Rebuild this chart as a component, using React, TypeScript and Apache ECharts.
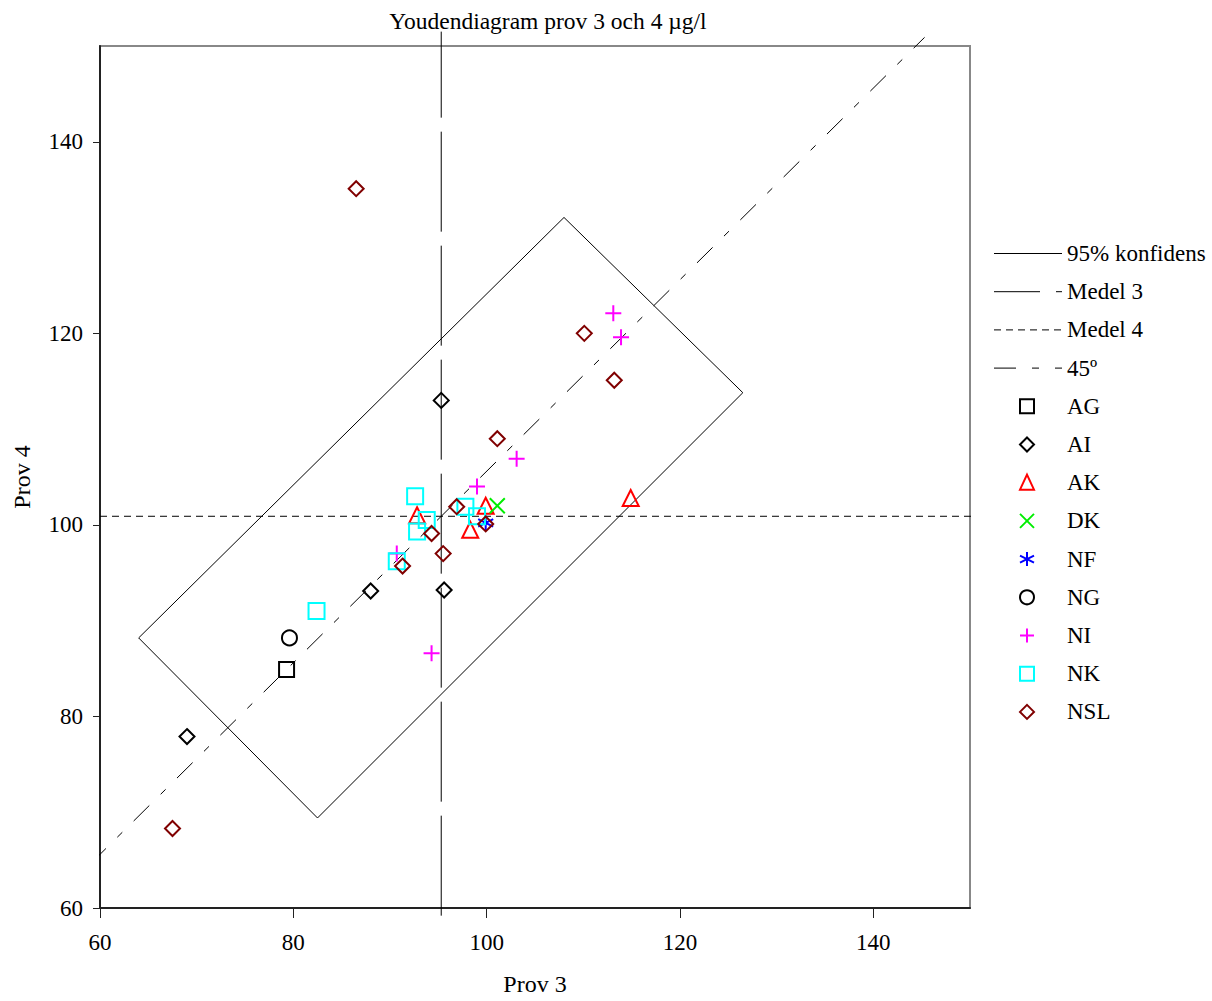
import React, { useEffect, useRef } from 'react';
import * as echarts from 'echarts';

// ---------- texts ----------
const titleText = 'Youdendiagram prov 3 och 4 µg/l';
const xName = 'Prov 3';
const yName = 'Prov 4';
const lineLegendNames = ['95% konfidens', 'Medel 3', 'Medel 4', '45º'];

// ---------- axes ----------
const axisMin = 60;
const axisMax = 150;
const xTicks = [60, 80, 100, 120, 140];
const yTicks = [60, 80, 100, 120, 140];

// ---------- reference lines ----------
const mean3 = 95.3;
const mean4 = 100.9;
const confX = [64.0, 82.5, 126.5, 108.0, 64.0];
const confY = [88.2, 69.4, 113.8, 132.1, 88.2];
const mean3Span = [59.2, 151.5];
const mean4Span = [60, 151];
const diagSpan = [59.0, 145.3];

// ---------- participants (Prov 3, Prov 4) ----------
const agData = [[79.3, 84.9]];
const aiData = [[69.0, 77.9], [88.0, 93.1], [95.3, 113.0], [95.6, 93.2]];
const akData = [[92.8, 101.0], [98.3, 99.5], [99.9, 102.0], [114.9, 102.8]];
const dkData = [[101.1, 102.0]];
const nfData = [[99.9, 100.2]];
const ngData = [[79.6, 88.2]];
const niData = [[113.1, 122.1], [113.9, 119.6], [103.1, 106.9], [99.0, 104.0], [90.7, 97.0], [94.3, 86.6]];
const nkData = [[92.6, 103.0], [93.8, 100.5], [92.8, 99.3], [97.8, 101.9], [99.0, 100.9], [90.7, 96.2], [82.4, 91.0]];
const nslData = [[86.5, 135.1], [110.1, 120.0], [113.2, 115.1], [101.1, 109.0], [96.9, 101.9], [94.3, 99.1], [95.5, 97.0], [91.3, 95.7], [99.9, 100.1], [67.5, 68.3]];

const FONT = '"Liberation Serif", "Times New Roman", serif';

const PATH_X = 'path://M0,0L10,10M10,0L0,10';
const PATH_PLUS = 'path://M5,0L5,10M0,5L10,5';
const PATH_AST = 'path://M5,0L5,10M0,2.5L10,7.5M10,2.5L0,7.5';

const groups = [
  { name: 'AG', data: agData, symbol: 'rect', color: '#000000', size: 15, kind: 'square' },
  { name: 'AI', data: aiData, symbol: 'diamond', color: '#000000', size: 15, kind: 'diamond' },
  { name: 'AK', data: akData, symbol: 'triangle', color: '#ff0000', size: 16, kind: 'triangle' },
  { name: 'DK', data: dkData, symbol: PATH_X, color: '#00ee00', size: 15, kind: 'x' },
  { name: 'NF', data: nfData, symbol: PATH_AST, color: '#0000ff', size: 15, kind: 'ast' },
  { name: 'NG', data: ngData, symbol: 'circle', color: '#000000', size: 15, kind: 'circle' },
  { name: 'NI', data: niData, symbol: PATH_PLUS, color: '#ff00ff', size: 16, kind: 'plus' },
  { name: 'NK', data: nkData, symbol: 'rect', color: '#00ffff', size: 16, kind: 'square' },
  { name: 'NSL', data: nslData, symbol: 'diamond', color: '#800000', size: 15, kind: 'diamond' },
];

const lineDashes: (number[] | null)[] = [null, [46, 16], [7, 5], [22, 16, 7, 16]];
const plotDashes: (number[] | null)[] = [null, [100, 14], [7, 5], [22, 16, 7, 16]];

function legendSymbol(kind: string, cx: number, cy: number, color: string): any[] {
  const st = { fill: 'none', stroke: color, lineWidth: 2 };
  const r = 7;
  switch (kind) {
    case 'square':
      return [{ type: 'rect', shape: { x: cx - r, y: cy - r, width: 2 * r, height: 2 * r }, style: st }];
    case 'diamond':
      return [{ type: 'polygon', shape: { points: [[cx, cy - r], [cx + r, cy], [cx, cy + r], [cx - r, cy]] }, style: st }];
    case 'triangle':
      return [{ type: 'polygon', shape: { points: [[cx, cy - r - 1], [cx + r, cy + r], [cx - r, cy + r]] }, style: st }];
    case 'circle':
      return [{ type: 'circle', shape: { cx, cy, r }, style: st }];
    case 'x':
      return [
        { type: 'line', shape: { x1: cx - r, y1: cy - r, x2: cx + r, y2: cy + r }, style: st },
        { type: 'line', shape: { x1: cx + r, y1: cy - r, x2: cx - r, y2: cy + r }, style: st },
      ];
    case 'plus':
      return [
        { type: 'line', shape: { x1: cx, y1: cy - r, x2: cx, y2: cy + r }, style: st },
        { type: 'line', shape: { x1: cx - r, y1: cy, x2: cx + r, y2: cy }, style: st },
      ];
    case 'ast':
      return [
        { type: 'line', shape: { x1: cx, y1: cy - r, x2: cx, y2: cy + r }, style: st },
        { type: 'line', shape: { x1: cx - r, y1: cy - r / 2, x2: cx + r, y2: cy + r / 2 }, style: st },
        { type: 'line', shape: { x1: cx + r, y1: cy - r / 2, x2: cx - r, y2: cy + r / 2 }, style: st },
      ];
  }
  return [];
}

export default function App() {
  const ref = useRef<HTMLDivElement>(null);

  useEffect(() => {
    if (!ref.current) return;
    const chart = echarts.init(ref.current, undefined, { renderer: 'svg' });

    const lineSeries: any[] = [
      {
        name: lineLegendNames[0],
        type: 'line',
        data: confX.map((x, i) => [x, confY[i]]),
        symbol: 'none',
        clip: false,
        silent: true,
        lineStyle: { color: '#000', width: 1 },
        z: 1,
      },
      {
        name: lineLegendNames[1],
        type: 'line',
        data: mean3Span.map((y) => [mean3, y]),
        symbol: 'none',
        clip: false,
        silent: true,
        lineStyle: { color: '#000', width: 1, type: plotDashes[1] },
        z: 1,
      },
      {
        name: lineLegendNames[2],
        type: 'line',
        data: mean4Span.map((x) => [x, mean4]),
        symbol: 'none',
        clip: false,
        silent: true,
        lineStyle: { color: '#000', width: 1, type: plotDashes[2] },
        z: 1,
      },
      {
        name: lineLegendNames[3],
        type: 'line',
        data: diagSpan.map((x) => [x, x + (mean4 - mean3)]),
        symbol: 'none',
        clip: false,
        silent: true,
        lineStyle: { color: '#000', width: 1, type: plotDashes[3] },
        z: 1,
      },
    ];

    const scatterSeries = groups.map((g) => ({
      name: g.name,
      type: 'scatter',
      data: g.data,
      symbol: g.symbol,
      symbolSize: g.size,
      itemStyle: { color: 'transparent', borderColor: g.color, borderWidth: 2, opacity: 1 },
      z: 3,
    }));

    // legend drawn as graphics
    const legendX1 = 994;
    const legendX2 = 1062;
    const symX = 1027;
    const textX = 1067;
    const rowY0 = 253.5;
    const rowStep = 38.2;
    const graphics: any[] = [];
    lineLegendNames.forEach((name, i) => {
      const y = rowY0 + i * rowStep;
      graphics.push({
        type: 'line',
        shape: { x1: legendX1, y1: y, x2: legendX2, y2: y },
        style: { stroke: '#000', lineWidth: 1, lineDash: lineDashes[i] || undefined },
      });
      graphics.push({
        type: 'text',
        x: textX,
        y,
        style: { text: name, fill: '#000', font: `23px ${FONT}`, verticalAlign: 'middle', align: 'left' },
      });
    });
    groups.forEach((g, j) => {
      const y = rowY0 + (j + lineLegendNames.length) * rowStep;
      graphics.push(...legendSymbol(g.kind, symX, y, g.color));
      graphics.push({
        type: 'text',
        x: textX,
        y,
        style: { text: g.name, fill: '#000', font: `23px ${FONT}`, verticalAlign: 'middle', align: 'left' },
      });
    });
    graphics.push({
      type: 'text',
      x: 548,
      y: 21,
      style: { text: titleText, fill: '#000', font: `23.5px ${FONT}`, verticalAlign: 'middle', align: 'center' },
    });

    const axisCommon = {
      type: 'value',
      min: axisMin,
      max: axisMax,
      nameLocation: 'middle',
      nameTextStyle: { fontFamily: FONT, fontSize: 24, color: '#000' },
      splitLine: { show: false },
      axisLine: { show: true, onZero: false, lineStyle: { color: '#222', width: 2 } },
    };

    chart.setOption({
      animation: false,
      backgroundColor: '#ffffff',
      grid: {
        left: 100,
        top: 46,
        width: 870,
        height: 864,
        show: true,
        borderColor: '#888',
        borderWidth: 2,
        backgroundColor: 'transparent',
      },
      graphic: { elements: graphics },
      xAxis: {
        ...axisCommon,
        name: xName,
        nameGap: 64,
        axisTick: { show: true, customValues: xTicks, length: 10, lineStyle: { color: '#222', width: 1 } },
        axisLabel: { customValues: xTicks, margin: 23, fontSize: 23, fontFamily: FONT, color: '#000' },
      },
      yAxis: {
        ...axisCommon,
        name: yName,
        nameGap: 66,
        nameRotate: 90,
        axisTick: { show: true, customValues: yTicks, length: 7, lineStyle: { color: '#222', width: 1 } },
        axisLabel: { customValues: yTicks, margin: 17, fontSize: 23, fontFamily: FONT, color: '#000' },
      },
      series: [...lineSeries, ...scatterSeries],
    });

    return () => chart.dispose();
  }, []);

  return (
    <div
      ref={ref}
      style={{ position: 'fixed', left: 0, top: 0, width: 1212, height: 1001, background: '#fff' }}
    />
  );
}
